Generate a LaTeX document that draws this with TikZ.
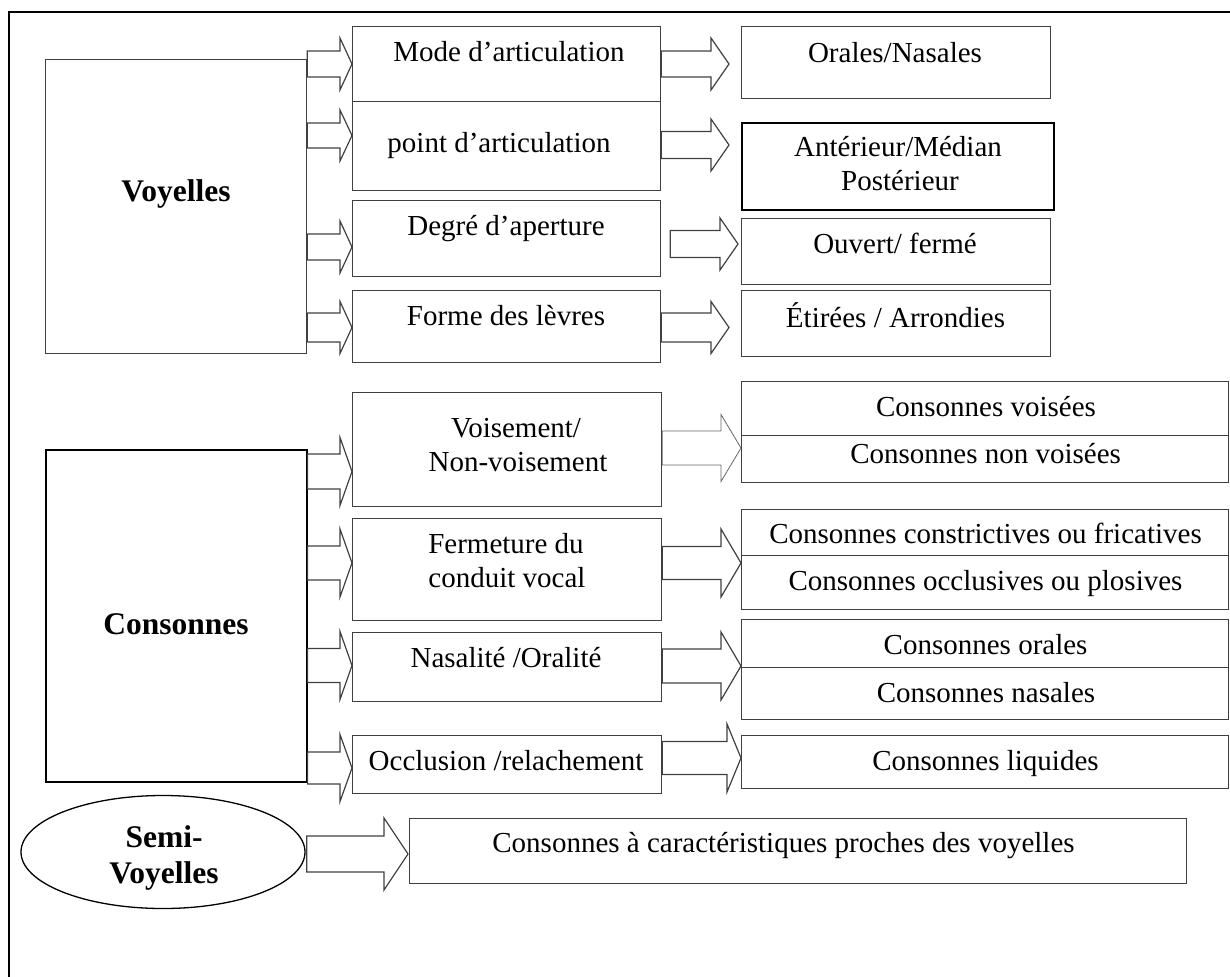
\documentclass[tikz,border=0pt]{standalone}
\usepackage{fontspec}
\setmainfont{Liberation Serif}
\usetikzlibrary{calc,shapes.geometric}

\tikzset{
  frame/.style={draw=black, line width=1.5pt},
  box/.style={draw=black!75, line width=1.3pt, inner sep=0pt, anchor=north west},
  strongbox/.style={box, draw=black, line width=1.6pt},
  oval/.style={ellipse, draw=black, line width=1.3pt, inner sep=0pt},
  txt/.style={anchor=base, inner sep=0pt, font=\fontsize{29}{34}\selectfont},
  head/.style={anchor=base, inner sep=0pt, font=\fontsize{31.5}{37}\selectfont\bfseries},
  barrow/.style={draw=black!75, line width=1.2pt, line join=miter},
  thinarrow/.style={draw=black!60, line width=0.8pt},
}

% Block arrow from the east side of #2 to the west side of #3.
% #4 base offset, #5 gap before target, #6 axis y, #7 shaft half height,
% #8 head half height, #9 head length (all in px units).
\newcommand\blockarrow[9][]{%
  \draw[barrow,#1] let \p1=(#2.east), \p2=(#3.west) in
    (\x1+#4pt, -#6pt+#7pt) -- (\x2-#5pt-#9pt, -#6pt+#7pt)
    -- (\x2-#5pt-#9pt, -#6pt+#8pt) -- (\x2-#5pt, -#6pt)
    -- (\x2-#5pt-#9pt, -#6pt-#8pt) -- (\x2-#5pt-#9pt, -#6pt-#7pt)
    -- (\x1+#4pt, -#6pt-#7pt) -- cycle;}

\begin{document}
\begin{tikzpicture}[x=1pt,y=-1pt]
\useasboundingbox (0,0) rectangle (1230,976);

% outer frame, running past the page on the right and at the bottom
\begin{scope}
  \clip (0,0) rectangle (1230,976);
  \draw[frame] (9,12) rectangle (1260,1010);
\end{scope}

% --- Voyelles ---
\node[box, minimum width=261pt, minimum height=294pt] (voy) at (45,59) {};
\node[box, minimum width=308pt, minimum height=75pt] (mode) at (352,26) {};
\node[box, minimum width=308pt, minimum height=89pt] (point) at (352,101) {};
\node[box, minimum width=308pt, minimum height=76pt] (degre) at (352,200) {};
\node[box, minimum width=308pt, minimum height=72pt] (forme) at (352,290) {};
\node[box, minimum width=309pt, minimum height=72pt] (orales) at (741,26) {};
\node[strongbox, minimum width=312pt, minimum height=87pt] (anter) at (741,122) {};
\node[box, minimum width=309pt, minimum height=66pt] (ouvert) at (741,218) {};
\node[box, minimum width=309pt, minimum height=66pt] (etir) at (741,290) {};

% --- Consonnes ---
\node[strongbox, minimum width=261pt, minimum height=332pt] (cons) at (45,449) {};
\node[box, minimum width=309pt, minimum height=114pt] (voise) at (352,392) {};
\node[box, minimum width=309pt, minimum height=102pt] (ferm) at (352,518) {};
\node[box, minimum width=309pt, minimum height=69pt] (nasal) at (352,632) {};
\node[box, minimum width=309pt, minimum height=58pt] (occl) at (352,735) {};
\node[box, minimum width=487pt, minimum height=54pt] (cvois) at (741,381) {};
\node[box, minimum width=487pt, minimum height=47pt] (cnvois) at (741,435) {};
\node[box, minimum width=487pt, minimum height=46pt] (cconstr) at (741,509) {};
\node[box, minimum width=487pt, minimum height=54pt] (cocclu) at (741,555) {};
\node[box, minimum width=487pt, minimum height=48pt] (corales) at (741,619) {};
\node[box, minimum width=487pt, minimum height=52pt] (cnasales) at (741,667) {};
\node[box, minimum width=487pt, minimum height=53pt] (cliq) at (741,735) {};

% --- Semi-voyelles ---
\node[oval, minimum width=284pt, minimum height=113pt] (semi) at (163,852) {};
\node[box, minimum width=777pt, minimum height=65pt] (semibox) at (409,818) {};

% block arrows
\blockarrow{voy}{mode}{0}{0}{64}{13}{26}{12}
\blockarrow{voy}{point}{0}{0}{135.5}{12.5}{25.5}{12}
\blockarrow{voy}{degre}{0}{0}{247}{13}{26}{12}
\blockarrow{voy}{forme}{0}{0}{327.5}{14.5}{26}{12}
\blockarrow{mode}{orales}{0}{12}{64}{13}{26}{18}
\blockarrow{point}{anter}{0}{12}{145}{13.5}{26}{18}
\blockarrow{degre}{ouvert}{9}{3}{244}{13.5}{26}{18}
\blockarrow{forme}{etir}{0}{12}{327.5}{14.5}{26}{18}

\blockarrow{cons}{voise}{0}{0}{471.5}{17.5}{34}{12}
\blockarrow{cons}{ferm}{0}{0}{563}{17}{34}{12}
\blockarrow{cons}{nasal}{0}{0}{665.5}{17}{34}{12}
\blockarrow{cons}{occl}{0}{0}{768}{16}{33.5}{12}
\blockarrow[thinarrow]{voise}{cvois}{0}{0}{448}{17}{33.5}{20}
\blockarrow{ferm}{cconstr}{0}{0}{563}{16.5}{34}{20}
\blockarrow{nasal}{corales}{0}{0}{666}{17}{34}{20}
\blockarrow{occl}{cliq}{0}{0}{758}{16.5}{34}{14}
\blockarrow{semi}{semibox}{1}{1}{854}{18}{36}{24}

% labels
\node[head] (hvoy) at (176,202) {Voyelles};
\node[head] (hcons) at (176,634) {Consonnes};
\node[head] (hsemi1) at (164,847) {Semi-};
\node[head] (hsemi2) at (164,883) {Voyelles};

\node[txt] (tmode) at (509,62) {Mode d’articulation};
\node[txt] (tpoint) at (499,153) {point d’articulation};
\node[txt] (tdegre) at (506,236) {Degré d’aperture};
\node[txt] (tforme) at (506,325) {Forme des lèvres};
\node[txt] (torales) at (895,63) {Orales/Nasales};
\node[txt] (tanter1) at (898,157) {Antérieur/Médian};
\node[txt] (tanter2) at (900,191) {Postérieur};
\node[txt] (touvert) at (895,253) {Ouvert/ fermé};
\node[txt] (tetir) at (895.5,327) {Étirées / Arrondies};

\node[txt] (tvois1) at (516,437) {Voisement/};
\node[txt] (tvois2) at (518,471) {Non-voisement};
\node[txt] (tferm1) at (506,553) {Fermeture du};
\node[txt] (tferm2) at (507,587) {conduit vocal};
\node[txt] (tnasal) at (506,667) {Nasalité /Oralité};
\node[txt] (toccl) at (506,770) {Occlusion /relachement};
\node[txt] (tcv) at (986,416) {Consonnes voisées};
\node[txt] (tcnv) at (985.6,463) {Consonnes non voisées};
\node[txt] (tcc) at (985.5,543) {Consonnes constrictives ou fricatives};
\node[txt] (tco) at (985.5,590) {Consonnes occlusives ou plosives};
\node[txt] (tcor) at (985.6,654) {Consonnes orales};
\node[txt] (tcna) at (986,702) {Consonnes nasales};
\node[txt] (tcl) at (985.5,770) {Consonnes liquides};
\node[txt] (tsemi) at (783.5,852) {Consonnes à caractéristiques proches des voyelles};
\end{tikzpicture}
\end{document}
